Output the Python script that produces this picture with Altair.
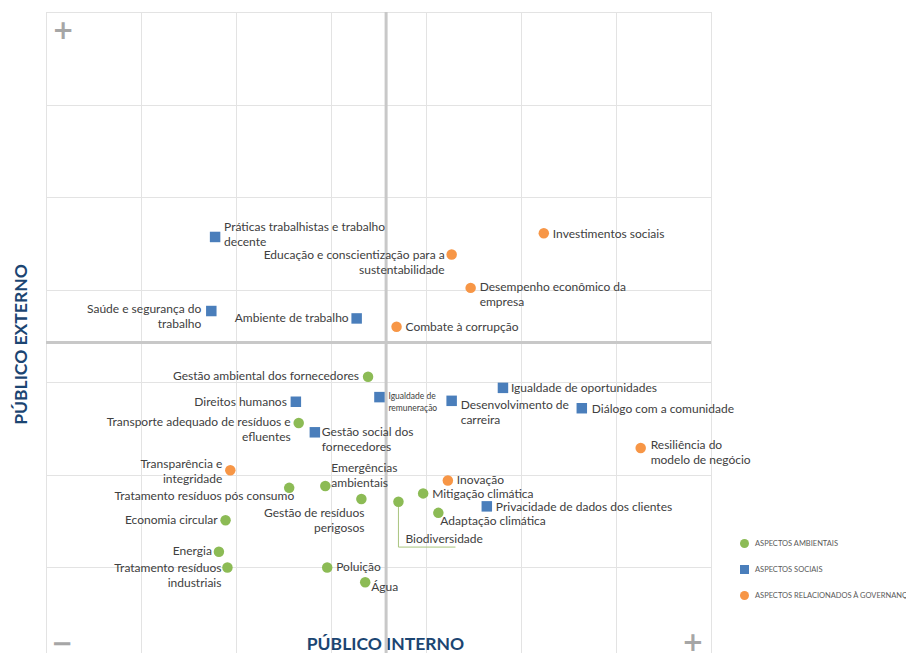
import altair as alt
import pandas as pd

# ---------------- data ----------------
cats = ["ASPECTOS AMBIENTAIS", "ASPECTOS SOCIAIS", "ASPECTOS RELACIONADOS À GOVERNANÇA"]

env_names = [
    "Gestão ambiental dos fornecedores",
    "Transporte adequado de resíduos e\nefluentes",
    "Emergências\nambientais",
    "Tratamento resíduos pós consumo",
    "Gestão de resíduos\nperigosos",
    "Biodiversidade",
    "Mitigação climática",
    "Adaptação climática",
    "Economia circular",
    "Energia",
    "Tratamento resíduos\nindustriais",
    "Poluição",
    "Água",
]
env_x = [33.9, 26.6, 29.4, 25.6, 33.2, 37.1, 39.7, 41.3, 18.9, 18.2, 19.1, 29.6, 33.6]
env_y = [30.6, 25.6, 18.8, 18.6, 17.4, 17.1, 18.0, 15.9, 15.1, 11.7, 10.0, 10.0, 8.4]

soc_names = [
    "Práticas trabalhistas e trabalho\ndecente",
    "Saúde e segurança do\ntrabalho",
    "Ambiente de trabalho",
    "Direitos humanos",
    "Igualdade de\nremuneração",
    "Desenvolvimento de\ncarreira",
    "Igualdade de oportunidades",
    "Diálogo com a comunidade",
    "Gestão social dos\nfornecedores",
    "Privacidade de dados dos clientes",
]
soc_x = [17.8, 17.4, 32.7, 26.3, 35.1, 42.7, 48.1, 56.4, 28.3, 46.4]
soc_y = [45.7, 37.7, 36.9, 27.9, 28.4, 28.0, 29.4, 27.2, 24.6, 16.6]

gov_names = [
    "Investimentos sociais",
    "Educação e conscientização para a\nsustentabilidade",
    "Desempenho econômico da\nempresa",
    "Combate à corrupção",
    "Resiliência do\nmodelo de negócio",
    "Transparência e\nintegridade",
    "Inovação",
]
gov_x = [52.4, 42.7, 44.7, 36.9, 62.6, 19.4, 42.3]
gov_y = [46.1, 43.8, 40.2, 36.0, 22.9, 20.5, 19.4]

# label placement: side (R = right of point, L = left, S = small right), pixel offsets
env_place = [("L", -9, 0), ("L", -8, -1), ("R", 6, -17), ("L", 5, 9), ("L", 3, 15),
             ("R", 7, 38), ("R", 9, 1), ("R", 2, 9), ("L", -8, 0), ("L", -7, 0),
             ("L", -6, 1), ("R", 9, 0), ("R", 6, 5)]
soc_place = [("R", 9, -9), ("L", -10, -2), ("L", -8, 0), ("L", -9, 1), ("S", 9, 0),
             ("R", 9, 5), ("R", 8, 1), ("R", 10, 1), ("R", 7, 0), ("R", 9, 1)]
gov_place = [("R", 9, 1), ("L", -7, 1), ("R", 9, 0), ("R", 9, 1), ("R", 10, -3),
             ("L", -8, -6), ("R", 9, 0)]

# connector under "Biodiversidade"
bio_link_x = [37.1, 37.1, 43.1]
bio_link_y = [17.1, 12.2, 12.2]

# quadrant axes (centre lines)
center_x = 35.8
center_y = 34.3

# quadrant signs
sign_text = ["+", "−", "+"]
sign_x = [1.8, 1.7, 68.1]
sign_y = [67.9, 1.75, 1.85]

grid_x = [0, 10, 20, 30, 40, 50, 60, 70]
grid_y = [10, 20, 30, 40, 50, 60, 70]

# ---------------- layout ----------------
W, H = 665, 641
X_DOM = [0, 70]
Y_DOM = [0.76, 70]
PX_X = W / (X_DOM[1] - X_DOM[0])
PX_Y = H / (Y_DOM[1] - Y_DOM[0])
LH = 15
LH_S = 12

rows = []
for cat, names, xs, ys, pl in [
    (cats[0], env_names, env_x, env_y, env_place),
    (cats[1], soc_names, soc_x, soc_y, soc_place),
    (cats[2], gov_names, gov_x, gov_y, gov_place),
]:
    for n, x, y, (side, dx, dy) in zip(names, xs, ys, pl):
        lh = LH_S if side == "S" else LH
        oy = dy - lh / 2
        rows.append(dict(cat=cat, name=n, x=x, y=y, side=side,
                         lx=x + dx / PX_X, ly=y - oy / PX_Y))
df = pd.DataFrame(rows)

link_df = pd.DataFrame({"x": bio_link_x, "y": bio_link_y, "o": list(range(len(bio_link_x)))})
sign_df = pd.DataFrame({"x": sign_x, "y": sign_y, "t": sign_text})

FONT = "Lato"
TXT = "#404040"
GREEN, BLUE, ORANGE = "#8cbb55", "#4a7ebb", "#f79646"
NAVY = "#1b4572"

xscale = alt.Scale(domain=X_DOM, nice=False, zero=False)
yscale = alt.Scale(domain=Y_DOM, nice=False, zero=False)

xaxis = alt.Axis(values=grid_x, labels=False, ticks=False, domain=False, grid=True,
                 title="PÚBLICO INTERNO", titleFont=FONT, titleFontSize=17.5,
                 titleFontWeight="bold", titleColor=NAVY, titleX=339, titleY=-9,
                 titleAlign="center", titleBaseline="middle")
yaxis = alt.Axis(values=grid_y, labels=False, ticks=False, domain=False, grid=True,
                 title="PÚBLICO EXTERNO", titleFont=FONT, titleFontSize=17.5,
                 titleFontWeight="bold", titleColor=NAVY, titleAngle=270,
                 titleX=-25, titleY=332, titleAlign="center", titleBaseline="middle")

X = alt.X("x:Q", scale=xscale, axis=xaxis)
Y = alt.Y("y:Q", scale=yscale, axis=yaxis)

vrule = alt.Chart(pd.DataFrame({"x": [center_x]})).mark_rule(
    color="#c8c8c8", strokeWidth=3).encode(x=X)
hrule = alt.Chart(pd.DataFrame({"y": [center_y]})).mark_rule(
    color="#c8c8c8", strokeWidth=3).encode(y=Y)

link = alt.Chart(link_df).mark_line(color="#a9c47f", strokeWidth=1).encode(
    x=X, y=Y, order="o:Q")

legend_kw = dict(title=None, orient="none", legendX=694, legendY=527,
                 labelFont=FONT, labelFontSize=7.5, labelColor="#595959",
                 symbolSize=81, rowPadding=17, labelOffset=6, padding=0,
                 labelLimit=260, symbolStrokeWidth=0)

points = alt.Chart(df).mark_point(filled=True, size=110, opacity=1).encode(
    x=X, y=Y,
    color=alt.Color("cat:N", scale=alt.Scale(domain=cats, range=[GREEN, BLUE, ORANGE]),
                    legend=alt.Legend(**legend_kw)),
    shape=alt.Shape("cat:N", scale=alt.Scale(domain=cats, range=["circle", "square", "circle"]),
                    legend=alt.Legend(**legend_kw)),
)


def labels(side, align, size, lh):
    return alt.Chart(df).transform_filter(alt.datum.side == side).mark_text(
        align=align, baseline="line-top", font=FONT, fontSize=size, lineHeight=lh,
        lineBreak="\n", color=TXT
    ).encode(
        x=alt.X("lx:Q", scale=xscale, axis=xaxis),
        y=alt.Y("ly:Q", scale=yscale, axis=yaxis),
        text="name:N",
    )


lab_r = labels("R", "left", 12, LH)
lab_l = labels("L", "right", 12, LH)
lab_s = labels("S", "left", 8.5, LH_S)

signs = alt.Chart(sign_df).mark_text(
    font="DejaVu Sans", fontWeight="bold", fontSize=26, color="#a6a6a6",
    align="center", baseline="middle"
).encode(x=X, y=Y, text="t:N")

chart = alt.layer(vrule, hrule, link, points, lab_r, lab_l, lab_s, signs).properties(
    width=W, height=H,
    autosize=alt.AutoSizeParams(type="none"),
    padding={"left": 38, "top": 4, "right": 195, "bottom": 0},
).configure_view(stroke="#d6d6d6", strokeWidth=1).configure_axis(
    gridColor="#e3e3e3", gridWidth=1
)

chart.save("out.html", embed_options={"renderer": "svg", "actions": False})
